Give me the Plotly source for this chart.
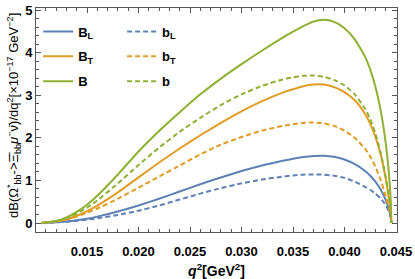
import plotly.graph_objects as go

# q^2 grid (GeV^2)
q2 = [0.0106, 0.012, 0.013, 0.014, 0.015, 0.016, 0.018, 0.020, 0.022, 0.024,
      0.026, 0.028, 0.030, 0.032, 0.034, 0.035, 0.036, 0.037, 0.038, 0.039,
      0.040, 0.041, 0.042, 0.0425, 0.043, 0.0435, 0.044, 0.0443, 0.0444, 0.0445, 0.04455]

# solid curves
B_L = [0, 0.015, 0.035, 0.065, 0.10, 0.15, 0.27, 0.41, 0.57, 0.74,
       0.91, 1.07, 1.22, 1.35, 1.46, 1.51, 1.55, 1.575, 1.58, 1.555,
       1.49, 1.38, 1.22, 1.11, 0.97, 0.79, 0.54, 0.33, 0.24, 0.12, 0]
B_T = [0, 0.04, 0.09, 0.17, 0.28, 0.41, 0.72, 1.07, 1.42, 1.75,
       2.06, 2.35, 2.62, 2.86, 3.06, 3.14, 3.21, 3.25, 3.25, 3.19,
       3.07, 2.88, 2.56, 2.33, 2.02, 1.62, 1.05, 0.58, 0.40, 0.20, 0]
B = [0, 0.05, 0.13, 0.26, 0.43, 0.64, 1.14, 1.68, 2.16, 2.60,
     3.02, 3.39, 3.73, 4.05, 4.35, 4.49, 4.62, 4.73, 4.77, 4.72,
     4.57, 4.31, 3.90, 3.60, 3.20, 2.66, 1.88, 1.20, 0.88, 0.48, 0]

# dashed curves
b_L = [0, 0.015, 0.03, 0.05, 0.08, 0.11, 0.19, 0.29, 0.41, 0.55,
       0.69, 0.82, 0.93, 1.02, 1.09, 1.115, 1.135, 1.14, 1.135, 1.11,
       1.06, 0.97, 0.85, 0.78, 0.69, 0.58, 0.42, 0.28, 0.20, 0.11, 0]
b_T = [0, 0.03, 0.08, 0.15, 0.24, 0.34, 0.57, 0.83, 1.09, 1.35,
       1.61, 1.84, 2.02, 2.17, 2.28, 2.32, 2.35, 2.36, 2.34, 2.28,
       2.17, 2.00, 1.74, 1.56, 1.32, 1.02, 0.64, 0.37, 0.27, 0.14, 0]
b = [0, 0.04, 0.11, 0.22, 0.36, 0.53, 0.93, 1.36, 1.77, 2.14,
     2.47, 2.77, 3.02, 3.22, 3.37, 3.42, 3.455, 3.46, 3.43, 3.36,
     3.23, 3.02, 2.68, 2.44, 2.10, 1.66, 1.08, 0.66, 0.47, 0.25, 0]

x_ticks = [0.015, 0.020, 0.025, 0.030, 0.035, 0.040, 0.045]
x_ticktext = ["0.015", "0.020", "0.025", "0.030", "0.035", "0.040", "0.045"]
y_ticks = [0, 1, 2, 3, 4, 5]

BLUE, ORANGE, GREEN = "#5E81B5", "#E19C24", "#8FB032"
FRAME = "#555555"

series = [
    ("B<sub>L</sub>", B_L, BLUE, "solid", "legend"),
    ("B<sub>T</sub>", B_T, ORANGE, "solid", "legend"),
    ("B", B, GREEN, "solid", "legend"),
    ("b<sub>L</sub>", b_L, BLUE, "5px,3px", "legend2"),
    ("b<sub>T</sub>", b_T, ORANGE, "5px,3px", "legend2"),
    ("b", b, GREEN, "5px,3px", "legend2"),
]

fig = go.Figure()
for i, (name, ys, col, dash, leg) in enumerate(series):
    fig.add_trace(go.Scatter(
        x=q2, y=ys, mode="lines", name=name, legend=leg, legendgroup=f"g{i}",
        line=dict(color=col, width=2, dash=dash, shape="spline", smoothing=0.5),
    ))

legfont = dict(family="Liberation Sans", size=13, color="black", weight="bold")
axfont = dict(family="Liberation Sans", size=13, color="black", weight="bold")

ytitle = ("dB(Ω<sup>*</sup><sub>bb</sub>->Ξ̄<sub>bb</sub><i>μ</i><sup>−</sup>ν̄)/dq<sup>2</sup>"
          "[×10<sup>−17</sup> GeV<sup>−2</sup>]")

fig.update_layout(
    width=415, height=279,
    margin=dict(l=36, r=18, t=8, b=47),
    paper_bgcolor="white", plot_bgcolor="white",
    showlegend=True,
    legend=dict(x=0.006, y=0.962, xanchor="left", yanchor="top",
                bgcolor="rgba(0,0,0,0)", font=legfont, tracegroupgap=5),
    legend2=dict(x=0.2385, y=0.962, xanchor="left", yanchor="top",
                 bgcolor="rgba(0,0,0,0)", font=legfont, tracegroupgap=5),
    xaxis=dict(
        range=[0.010049, 0.045097], tickmode="array", tickvals=x_ticks, ticktext=x_ticktext,
        ticks="inside", ticklen=5, tickwidth=1, tickcolor=FRAME,
        showline=True, linecolor=FRAME, linewidth=1, mirror="ticks",
        showgrid=False, zeroline=False, tickfont=axfont, ticklabelstandoff=7,
        minor=dict(ticks="inside", ticklen=3, dtick=0.001, tick0=0.010, tickcolor=FRAME, showgrid=False),
        title=dict(text="<i>q</i><sup>2</sup>[GeV<sup>2</sup>]",
                   font=dict(family="Liberation Sans", size=14, color="black", weight="bold"), standoff=8),
        automargin=False,
    ),
    yaxis=dict(
        range=[-0.211, 5.047], tickmode="array", tickvals=y_ticks,
        ticks="inside", ticklen=5, tickwidth=1, tickcolor=FRAME,
        showline=True, linecolor=FRAME, linewidth=1, mirror="ticks",
        showgrid=False, zeroline=False, tickfont=axfont,
        minor=dict(ticks="inside", ticklen=3, dtick=0.2, tick0=0, tickcolor=FRAME, showgrid=False),
        automargin=False,
    ),
    annotations=[dict(
        text=ytitle, textangle=-90, xref="paper", yref="paper",
        x=(14 - 36) / 361, y=(232 - 116) / 224, xanchor="center", yanchor="middle",
        showarrow=False, font=dict(family="Liberation Sans", size=13, color="black"),
    )],
)

fig.write_html("out.html", config={"displayModeBar": False},
               post_script="document.body.style.margin='0';")
